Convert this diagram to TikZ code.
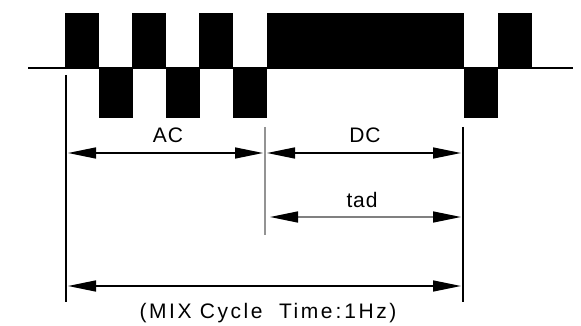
\documentclass[tikz,border=0pt]{standalone}
\usepackage{fontspec}
\setmainfont{Liberation Sans}
\usetikzlibrary{arrows.meta}
\begin{document}
\begin{tikzpicture}[x=1pt,y=-1pt,
  blk/.style={fill=black,draw=none},
  dimline/.style={line width=1.5pt,{Triangle[length=28pt,width=11pt,color=black]}-{Triangle[length=28pt,width=11pt,color=black]},shorten <=2pt,shorten >=2pt},
  extline/.style={line width=1.3pt},
  lbl/.style={font=\fontsize{21}{23}\selectfont\addfontfeature{LetterSpace=4},inner sep=0pt}]
\useasboundingbox (0,0) rectangle (581,326);
% waveform
\foreach \a/\b in {65/99,132/166,199/233,267/464,498/532}
  \fill[blk] (\a,13) rectangle (\b,68.5);
\foreach \a/\b in {99/133,166/200,233/267,464/498}
  \fill[blk] (\a,67.5) rectangle (\b,118);
\draw[line width=2pt] (28,68) -- (573,68);
% extension lines
\coordinate (l1) at (66,75);   \coordinate (l2) at (66,302);
\coordinate (m1) at (265,127); \coordinate (m2) at (265,235);
\coordinate (r1) at (463,127); \coordinate (r2) at (463,302);
\draw[extline] (l1) -- (l2);
\draw[extline,gray!85] (m1) -- (m2);
\draw[extline] (r1) -- (r2);
% dimension arrows
\coordinate (acL) at (66,153);  \coordinate (acR) at (265,153);
\coordinate (dcR) at (463,153);
\coordinate (tdL) at (268,217); \coordinate (tdR) at (463,217);
\coordinate (tL) at (66,286);   \coordinate (tR) at (463,286);
\draw[dimline] (acL) -- (acR);
\draw[dimline] (acR) -- (dcR);
\draw[dimline,gray] (tdL) -- (tdR);
\draw[dimline] (tL) -- (tR);
% labels
\node[lbl] (ac) at (168,135) {AC};
\node[lbl] (dc) at (365,135) {DC};
\node[lbl] (tad) at (362,200) {tad};
\node[lbl,font=\fontsize{21}{23}\selectfont\addfontfeature{LetterSpace=12}] (mix) at (268,313) {(MIX Cycle\ \ Time\hspace{3pt}:\hspace{3pt}1Hz)};
\end{tikzpicture}
\end{document}
